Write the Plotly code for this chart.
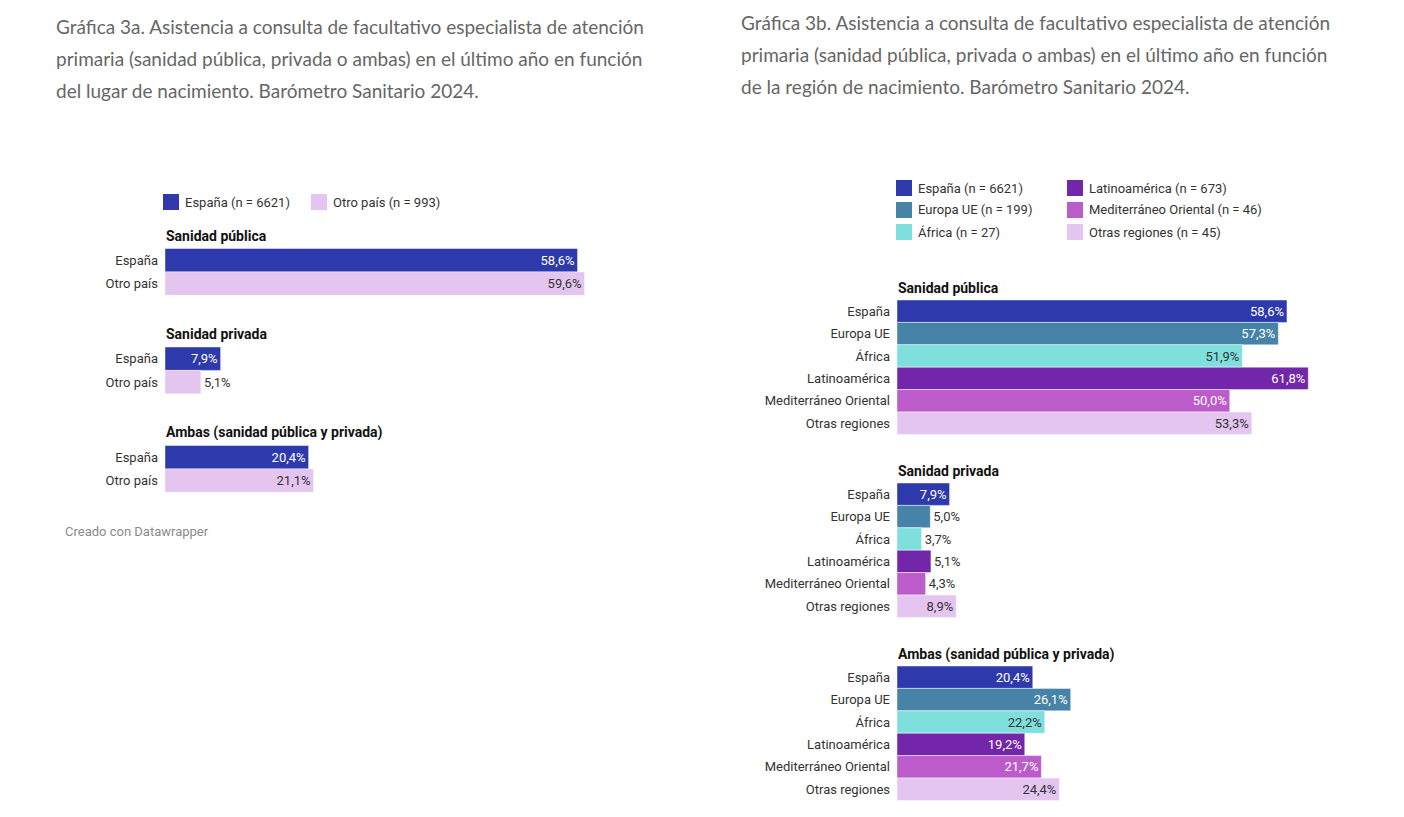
import plotly.graph_objects as go

# the page body has an 8px margin, so the figure is drawn from (8, 8)
OFF = 8
W, H = 1388, 801

# ---------------- data ----------------
groups = ["Sanidad pública", "Sanidad privada", "Ambas (sanidad pública y privada)"]

# Gráfica 3a: lugar de nacimiento
lugar_series = ["España", "Otro país"]
lugar_legend = ["España (n = 6621)", "Otro país (n = 993)"]
lugar_colors = ["#2e3aab", "#e3c5ef"]
lugar_values = {
    "España": [58.6, 7.9, 20.4],
    "Otro país": [59.6, 5.1, 21.1],
}

# Gráfica 3b: región de nacimiento
region_series = ["España", "Europa UE", "África", "Latinoamérica",
                 "Mediterráneo Oriental", "Otras regiones"]
region_legend = ["España (n = 6621)", "Europa UE (n = 199)", "África (n = 27)",
                 "Latinoamérica (n = 673)", "Mediterráneo Oriental (n = 46)",
                 "Otras regiones (n = 45)"]
region_colors = ["#2e3aab", "#4683a7", "#7fdfdd", "#7226a9", "#bc5ccb", "#e3c5ef"]
region_values = {
    "España": [58.6, 7.9, 20.4],
    "Europa UE": [57.3, 5.0, 26.1],
    "África": [51.9, 3.7, 22.2],
    "Latinoamérica": [61.8, 5.1, 19.2],
    "Mediterráneo Oriental": [50.0, 4.3, 21.7],
    "Otras regiones": [53.3, 8.9, 24.4],
}

title_a = ["Gráfica 3a. Asistencia a consulta de facultativo especialista de atención",
           "primaria (sanidad pública, privada o ambas) en el último año en función",
           "del lugar de nacimiento. Barómetro Sanitario 2024."]
title_b = ["Gráfica 3b. Asistencia a consulta de facultativo especialista de atención",
           "primaria (sanidad pública, privada o ambas) en el último año en función",
           "de la región de nacimiento. Barómetro Sanitario 2024."]

DARK_TEXT = "#333333"
LIGHT_FILLS = {"#7fdfdd", "#e3c5ef"}


def px(x):
    return (x - OFF) / W


def py(y):
    return 1 - (y - OFF) / H


fig = go.Figure()


def add_panel(series, values, colors, xref, yref, top0, row_h, pitch):
    tickvals, ticktext = [], []
    for i, name in enumerate(series):
        ys = [top0 + g * pitch + (i + 0.5) * row_h for g in range(len(groups))]
        vals = values[name]
        inside_col = DARK_TEXT if colors[i] in LIGHT_FILLS else "white"
        fig.add_trace(go.Bar(
            x=vals, y=ys, orientation="h", width=row_h,
            xaxis=xref, yaxis=yref,
            marker=dict(color=colors[i], line=dict(color="rgba(255,255,255,0.45)", width=1)),
            text=[f"{v:.1f}%".replace(".", ",") for v in vals],
            textposition=["inside" if v >= 7 else "outside" for v in vals],
            insidetextanchor="end",
            insidetextfont=dict(color=inside_col, size=13, family="Roboto"),
            outsidetextfont=dict(color=DARK_TEXT, size=13, family="Roboto"),
            cliponaxis=False, showlegend=False, hoverinfo="skip",
        ))
        tickvals += ys
        ticktext += [name] * len(groups)
    return tickvals, ticktext


tv_a, tt_a = add_panel(lugar_series, lugar_values, lugar_colors, "x", "y",
                       top0=248.5, row_h=23.4, pitch=98.5)
tv_b, tt_b = add_panel(region_series, region_values, region_colors, "x2", "y2",
                       top0=300, row_h=22.4, pitch=183)


def note(x, y, text, size=13, color=DARK_TEXT, family="Roboto"):
    return dict(x=px(x), y=py(y), xref="paper", yref="paper", text=text,
                xanchor="left", yanchor="middle", showarrow=False,
                font=dict(family=family, size=size, color=color))


ann = []
# group titles
for g, grp in enumerate(groups):
    ann.append(note(164, 248.5 + g * 98.5 - 13, f"<b>{grp}</b>", size=14, color="#111111"))
    ann.append(note(896, 300 + g * 183 - 12, f"<b>{grp}</b>", size=14, color="#111111"))

# titles
for k, line in enumerate(title_a):
    ann.append(note(54, 26 + 32 * k, line, size=19, color="#666666", family="Lato"))
for k, line in enumerate(title_b):
    ann.append(note(739, 22 + 32 * k, line, size=19, color="#666666", family="Lato"))

# footer
ann.append(note(63, 531, "Creado con Datawrapper", size=13, color="#8a8a8a"))

# manual legends
shapes = []


def legend_item(lx, ly, label, col):
    shapes.append(dict(type="rect", xref="paper", yref="paper",
                       x0=px(lx), x1=px(lx + 16), y0=py(ly - 8), y1=py(ly + 8),
                       fillcolor=col, line=dict(width=0)))
    ann.append(note(lx + 20, ly, label))


leg_a_x = [163, 311]
for lx, label, col in zip(leg_a_x, lugar_legend, lugar_colors):
    legend_item(lx, 202, label, col)

leg_b_cols = [896, 1067]
leg_b_rows = [188, 210, 232]
for i, (label, col) in enumerate(zip(region_legend, region_colors)):
    legend_item(leg_b_cols[i // 3], leg_b_rows[i % 3], label, col)

axis_common = dict(showgrid=False, zeroline=False, showline=False, ticks="",
                   fixedrange=True)
ytick_font = dict(family="Roboto", size=13, color=DARK_TEXT)

fig.update_layout(
    width=W, height=H,
    margin=dict(l=0, r=0, t=0, b=0, autoexpand=False),
    paper_bgcolor="white", plot_bgcolor="white",
    barmode="overlay",
    xaxis=dict(domain=[px(165), px(165 + 7.04 * 65)], range=[0, 65],
               showticklabels=False, anchor="y", **axis_common),
    yaxis=dict(domain=[0, 1], range=[H + OFF, OFF], tickvals=tv_a, ticktext=tt_a,
               anchor="x", ticklabelstandoff=6, tickfont=ytick_font, **axis_common),
    xaxis2=dict(domain=[px(897), px(897 + 6.655 * 66)], range=[0, 66],
                showticklabels=False, anchor="y2", **axis_common),
    yaxis2=dict(domain=[0, 1], range=[H + OFF, OFF], tickvals=tv_b, ticktext=tt_b,
                anchor="x2", ticklabelstandoff=6, tickfont=ytick_font, **axis_common),
    annotations=ann,
    shapes=shapes,
    font=dict(family="Roboto"),
)

fig.write_html("out.html")
